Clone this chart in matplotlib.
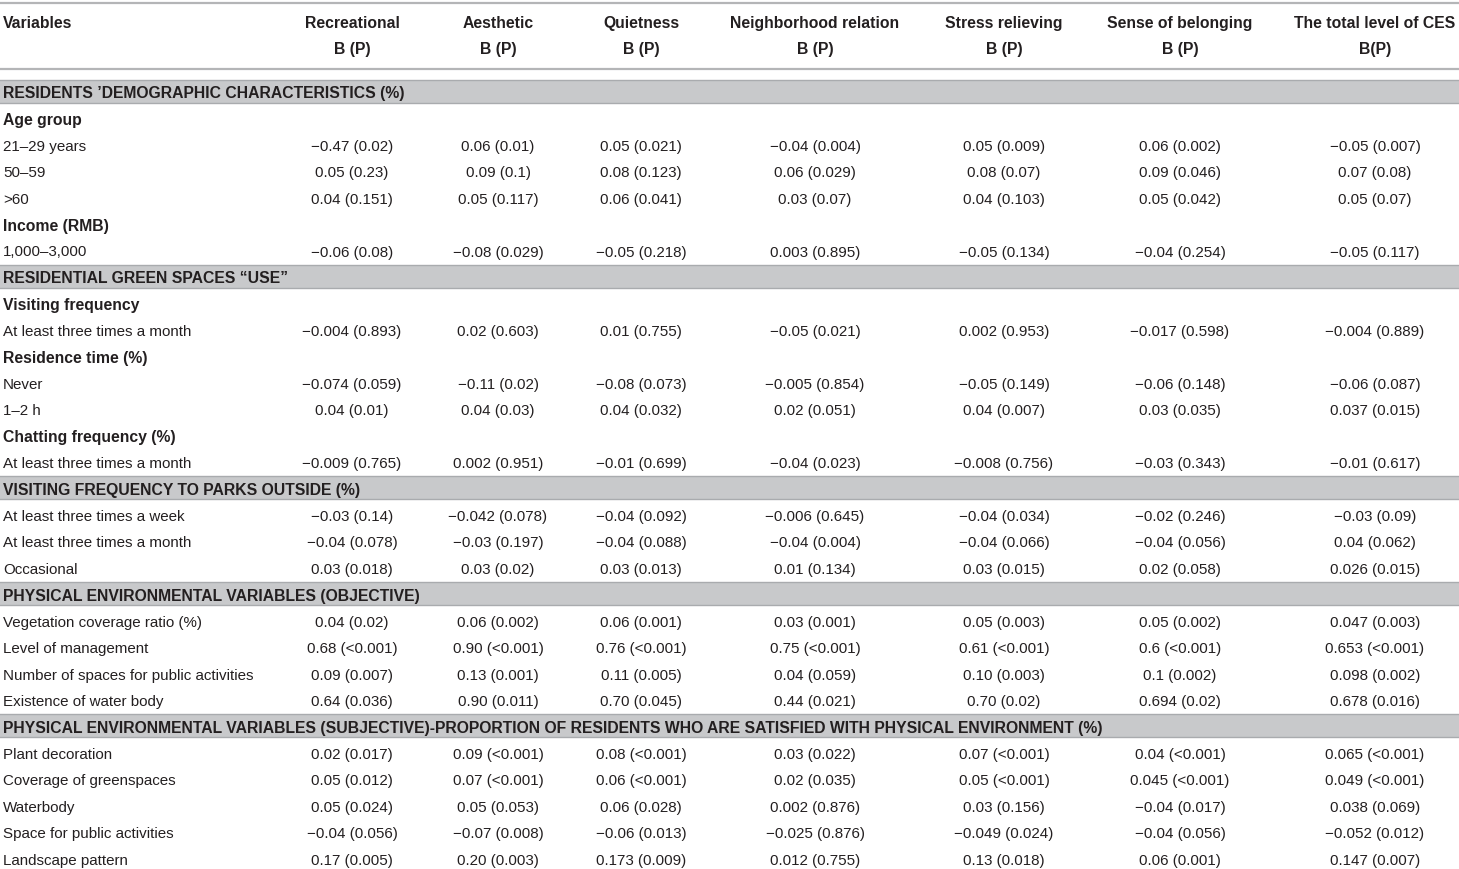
import matplotlib
matplotlib.use("Agg")
import matplotlib.pyplot as plt
from matplotlib.patches import Rectangle

plt.rcParams['font.family'] = ['Liberation Sans', 'DejaVu Sans']

W, H = 1459, 870
TXT = "#231f20"

col_titles = ["Recreational", "Aesthetic", "Quietness", "Neighborhood relation",
              "Stress relieving", "Sense of belonging", "The total level of CES"]
col_sub = ["B (P)", "B (P)", "B (P)", "B (P)", "B (P)", "B (P)", "B(P)"]

# kind: s = shaded section, g = bold group label, r = data row
row_kind = ["s", "g", "r", "r", "r", "g", "r",
            "s", "g", "r", "g", "r", "r", "g", "r",
            "s", "r", "r", "r",
            "s", "r", "r", "r", "r",
            "s", "r", "r", "r", "r", "r"]
row_labels = [
    "RESIDENTS \u2019DEMOGRAPHIC CHARACTERISTICS (%)", "Age group", "21\u201329 years",
    "50\u201359", ">60", "Income (RMB)", "1,000\u20133,000",
    "RESIDENTIAL GREEN SPACES \u201cUSE\u201d", "Visiting frequency",
    "At least three times a month", "Residence time (%)", "Never", "1\u20132 h",
    "Chatting frequency (%)", "At least three times a month",
    "VISITING FREQUENCY TO PARKS OUTSIDE (%)", "At least three times a week",
    "At least three times a month", "Occasional",
    "PHYSICAL ENVIRONMENTAL VARIABLES (OBJECTIVE)", "Vegetation coverage ratio (%)",
    "Level of management", "Number of spaces for public activities",
    "Existence of water body",
    "PHYSICAL ENVIRONMENTAL VARIABLES (SUBJECTIVE)-PROPORTION OF RESIDENTS WHO ARE "
    "SATISFIED WITH PHYSICAL ENVIRONMENT (%)",
    "Plant decoration", "Coverage of greenspaces", "Waterbody",
    "Space for public activities", "Landscape pattern",
]

# one list per column, only for data rows (kind "r"), in order
recreational = ["-0.47 (0.02)", "0.05 (0.23)", "0.04 (0.151)", "-0.06 (0.08)",
                "-0.004 (0.893)", "-0.074 (0.059)", "0.04 (0.01)", "-0.009 (0.765)",
                "-0.03 (0.14)", "-0.04 (0.078)", "0.03 (0.018)",
                "0.04 (0.02)", "0.68 (<0.001)", "0.09 (0.007)", "0.64 (0.036)",
                "0.02 (0.017)", "0.05 (0.012)", "0.05 (0.024)", "-0.04 (0.056)", "0.17 (0.005)"]
aesthetic = ["0.06 (0.01)", "0.09 (0.1)", "0.05 (0.117)", "-0.08 (0.029)",
             "0.02 (0.603)", "-0.11 (0.02)", "0.04 (0.03)", "0.002 (0.951)",
             "-0.042 (0.078)", "-0.03 (0.197)", "0.03 (0.02)",
             "0.06 (0.002)", "0.90 (<0.001)", "0.13 (0.001)", "0.90 (0.011)",
             "0.09 (<0.001)", "0.07 (<0.001)", "0.05 (0.053)", "-0.07 (0.008)", "0.20 (0.003)"]
quietness = ["0.05 (0.021)", "0.08 (0.123)", "0.06 (0.041)", "-0.05 (0.218)",
             "0.01 (0.755)", "-0.08 (0.073)", "0.04 (0.032)", "-0.01 (0.699)",
             "-0.04 (0.092)", "-0.04 (0.088)", "0.03 (0.013)",
             "0.06 (0.001)", "0.76 (<0.001)", "0.11 (0.005)", "0.70 (0.045)",
             "0.08 (<0.001)", "0.06 (<0.001)", "0.06 (0.028)", "-0.06 (0.013)", "0.173 (0.009)"]
neighborhood = ["-0.04 (0.004)", "0.06 (0.029)", "0.03 (0.07)", "0.003 (0.895)",
                "-0.05 (0.021)", "-0.005 (0.854)", "0.02 (0.051)", "-0.04 (0.023)",
                "-0.006 (0.645)", "-0.04 (0.004)", "0.01 (0.134)",
                "0.03 (0.001)", "0.75 (<0.001)", "0.04 (0.059)", "0.44 (0.021)",
                "0.03 (0.022)", "0.02 (0.035)", "0.002 (0.876)", "-0.025 (0.876)", "0.012 (0.755)"]
stress = ["0.05 (0.009)", "0.08 (0.07)", "0.04 (0.103)", "-0.05 (0.134)",
          "0.002 (0.953)", "-0.05 (0.149)", "0.04 (0.007)", "-0.008 (0.756)",
          "-0.04 (0.034)", "-0.04 (0.066)", "0.03 (0.015)",
          "0.05 (0.003)", "0.61 (<0.001)", "0.10 (0.003)", "0.70 (0.02)",
          "0.07 (<0.001)", "0.05 (<0.001)", "0.03 (0.156)", "-0.049 (0.024)", "0.13 (0.018)"]
belonging = ["0.06 (0.002)", "0.09 (0.046)", "0.05 (0.042)", "-0.04 (0.254)",
             "-0.017 (0.598)", "-0.06 (0.148)", "0.03 (0.035)", "-0.03 (0.343)",
             "-0.02 (0.246)", "-0.04 (0.056)", "0.02 (0.058)",
             "0.05 (0.002)", "0.6 (<0.001)", "0.1 (0.002)", "0.694 (0.02)",
             "0.04 (<0.001)", "0.045 (<0.001)", "-0.04 (0.017)", "-0.04 (0.056)", "0.06 (0.001)"]
total_ces = ["-0.05 (0.007)", "0.07 (0.08)", "0.05 (0.07)", "-0.05 (0.117)",
             "-0.004 (0.889)", "-0.06 (0.087)", "0.037 (0.015)", "-0.01 (0.617)",
             "-0.03 (0.09)", "0.04 (0.062)", "0.026 (0.015)",
             "0.047 (0.003)", "0.653 (<0.001)", "0.098 (0.002)", "0.678 (0.016)",
             "0.065 (<0.001)", "0.049 (<0.001)", "0.038 (0.069)", "-0.052 (0.012)", "0.147 (0.007)"]
columns = [recreational, aesthetic, quietness, neighborhood, stress, belonging, total_ces]

col_x = [352, 498, 641, 815, 1004, 1180, 1375]
row0_y = 92
row_step = 26.45
fs = 10.9      # regular text
fsb = 11.3     # bold text
dy = 1.8       # small downward nudge of text inside a row

fig = plt.figure(figsize=(W / 100, H / 100), dpi=100)
ax = fig.add_axes([0, 0, 1, 1])
ax.set_xlim(0, W)
ax.set_ylim(H, 0)
ax.axis("off")

# header rules
ax.plot([0, W], [3.5, 3.5], color="#b4b5b7", lw=1.6)
ax.plot([0, W], [70, 70], color="#b4b5b7", lw=1.6)

ax.text(3, 22 + dy, "Variables", fontsize=fsb, fontweight="bold", color=TXT, va="center", ha="left")
for x, t, s in zip(col_x, col_titles, col_sub):
    ax.text(x, 22 + dy, t, fontsize=fsb, fontweight="bold", color=TXT, va="center", ha="center")
    ax.text(x, 48 + dy, s, fontsize=fsb, fontweight="bold", color=TXT, va="center", ha="center")

k = 0
for i, (kind, lab) in enumerate(zip(row_kind, row_labels)):
    y = row0_y + i * row_step
    if kind == "s":
        ax.add_patch(Rectangle((0, y - 11.5), W, 23, facecolor="#c8c9cb",
                               edgecolor="none", zorder=0))
        ax.plot([0, W], [y - 11.5, y - 11.5], color="#a9abae", lw=1.0, zorder=1)
        ax.plot([0, W], [y + 11.5, y + 11.5], color="#a9abae", lw=1.0, zorder=1)
        ax.text(3, y + dy, lab, fontsize=fsb, fontweight="bold", color=TXT, va="center", ha="left")
    elif kind == "g":
        ax.text(3, y + dy, lab, fontsize=fsb, fontweight="bold", color=TXT, va="center", ha="left")
    else:
        ax.text(3, y + dy, lab, fontsize=fs, color=TXT, va="center", ha="left")
        for x, col in zip(col_x, columns):
            ax.text(x, y + dy, col[k].replace("-", "\u2212"), fontsize=fs, color=TXT,
                    va="center", ha="center")
        k += 1

fig.savefig("out.png", dpi=100)
